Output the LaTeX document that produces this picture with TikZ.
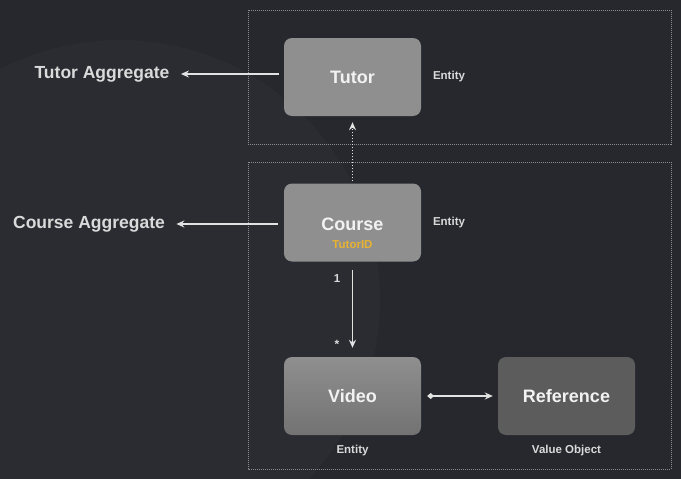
\documentclass[tikz,border=0pt]{standalone}
\usepackage{fontspec}
\setmainfont{Liberation Sans}
\usetikzlibrary{arrows.meta}
\definecolor{bg}{HTML}{26282E}
\definecolor{boxa}{HTML}{8F8F8F}
\definecolor{boxref}{HTML}{5C5C5C}
\definecolor{frame}{HTML}{8A8C90}
\definecolor{txt}{HTML}{F2F2F2}
\definecolor{lbl}{HTML}{DADADA}
\definecolor{arr}{HTML}{E2E2E2}
\definecolor{tid}{HTML}{E8B232}
\tikzset{
  ent/.style={rounded corners=8pt, minimum width=137pt, minimum height=78pt, inner sep=0pt, font=\bfseries\fontsize{18}{21}\selectfont, text=txt},
  aggframe/.style={draw=frame, line width=0.8pt, dash pattern=on 1pt off 1pt},
  conn/.style={draw=arr, line width=1.9pt, -{Stealth[length=8pt,width=7pt]}},
  small/.style={font=\bfseries\fontsize{11.5}{13}\selectfont, text=lbl},
  agglbl/.style={font=\bfseries\fontsize{17.5}{20}\selectfont, text=lbl}
}
\begin{document}
\begin{tikzpicture}[x=1pt,y=-1pt]
\useasboundingbox (0,0) rectangle (681,479);
\fill[bg] (0,0) rectangle (681,479);
\begin{scope}
\clip (0,0) rectangle (681,479);
\fill[white,opacity=0.02] (120,300) circle (260);
\end{scope}
% frames
\draw[aggframe] (248,10) rectangle (671,144);
\draw[aggframe] (248,162) rectangle (671,469);
% boxes
\node[ent, fill=boxa] (tutor) at (352.5,77) {Tutor};
\node[ent, fill=boxa] (course) at (352.5,222.5) {};
\node[font=\bfseries\fontsize{18}{21}\selectfont, text=txt] (coursename) at (352.5,224) {Course};
\node[font=\bfseries\fontsize{11.5}{13}\selectfont, text=tid] (tutorid) at (352.5,245) {TutorID};
\node[ent, top color=boxa, bottom color=boxa!80!black] (video) at (352.5,396) {Video};
\node[ent, fill=boxref] (ref) at (566.5,396) {Reference};
% labels
\node[small] (e1) at (449,77) {Entity};
\node[small] (e2) at (449,223) {Entity};
\node[small] (e3) at (352.5,451) {Entity};
\node[small] (e4) at (566.5,451) {Value Object};
\node[agglbl] (ta) at (102,74) {Tutor Aggregate};
\node[agglbl] (ca) at (89,224) {Course Aggregate};
\node[font=\bfseries\fontsize{11.5}{13}\selectfont, text=lbl] (one) at (337,279) {1};
\node[font=\bfseries\fontsize{12}{13}\selectfont, text=lbl] (star) at (337,344) {*};
% connectors
\draw[conn] ([xshift=-5pt]tutor.west |- ta.east) -- ([xshift=8pt]ta.east);
\draw[conn] ([xshift=-6pt]course.west |- ca.east) -- ([xshift=8pt]ca.east);
\draw[conn, dash pattern=on 1.5pt off 1.5pt] ([yshift=2pt]course.north) -- ([yshift=-6pt]tutor.south);
\draw[conn] ([yshift=-8pt]course.south) -- ([yshift=9pt]video.north);
\draw[conn, {Diamond[length=7pt,width=6pt]}-{Stealth[length=8pt,width=7pt]}, line width=1.6pt] ([xshift=6pt]video.east) -- ([xshift=-5pt]ref.west);
\end{tikzpicture}
\end{document}
